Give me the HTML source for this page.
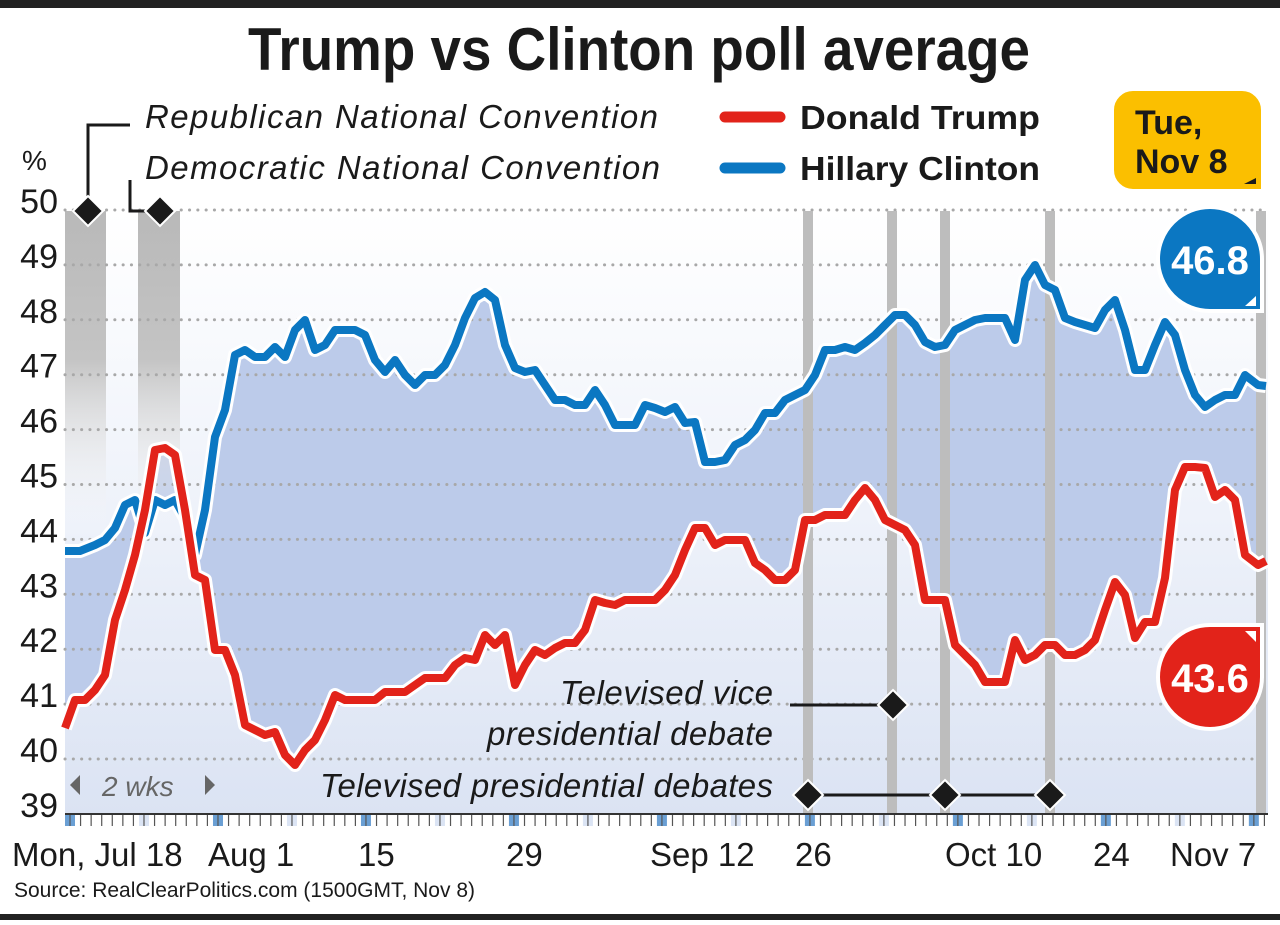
<!DOCTYPE html>
<html><head><meta charset="utf-8"><style>
body{margin:0;background:#fff;width:1280px;height:920px;overflow:hidden;font-family:"Liberation Sans",sans-serif}
</style></head><body>
<svg id="s" width="1280" height="920" xmlns="http://www.w3.org/2000/svg" font-family="Liberation Sans, sans-serif">
<defs>
<linearGradient id="gb" x1="0" y1="0" x2="0" y2="1"><stop offset="0" stop-color="#b9b9b9"/><stop offset="0.45" stop-color="#c4c4c4"/><stop offset="1" stop-color="#ffffff" stop-opacity="0"/></linearGradient>
<linearGradient id="lb" x1="0" y1="0" x2="0" y2="1"><stop offset="0" stop-color="#ffffff"/><stop offset="0.5" stop-color="#eef2fa"/><stop offset="1" stop-color="#dbe3f3"/></linearGradient>
</defs>
<rect x="0" y="0" width="1280" height="8" fill="#222"/>
<rect x="0" y="914" width="1280" height="6" fill="#222"/>
<text x="248" y="70" font-size="60" font-weight="bold" fill="#1a1a1a" textLength="782" lengthAdjust="spacingAndGlyphs">Trump vs Clinton poll average</text>
<rect x="65" y="211" width="1203" height="603" fill="url(#lb)"/>
<g id="bg"></g>
<rect x="65" y="211" width="41" height="330" fill="url(#gb)"/>
<rect x="138" y="211" width="42" height="330" fill="url(#gb)"/>
<g id="grid"></g>
<g fill="#bdbdbd"><rect x="803" y="211" width="10" height="603"/><rect x="887" y="211" width="10" height="603"/><rect x="940" y="211" width="10" height="603"/><rect x="1045" y="211" width="10" height="603"/><rect x="1256" y="211" width="10" height="603"/></g>
<g id="lines"></g>
<g font-size="34" fill="#1a1a1a" text-anchor="end" id="yl"></g>
<text x="22" y="170" font-size="28" fill="#1a1a1a">%</text>
<line x1="65" y1="814" x2="1268" y2="814" stroke="#333" stroke-width="2"/>
<g id="ticks"></g>
<g font-size="33" fill="#1a1a1a">
<text x="12" y="866">Mon, Jul 18</text><text x="208" y="866">Aug 1</text><text x="358" y="866">15</text><text x="506" y="866">29</text><text x="650" y="866">Sep 12</text><text x="795" y="866">26</text><text x="945" y="866">Oct 10</text><text x="1093" y="866">24</text><text x="1170" y="866">Nov 7</text>
</g>
<text x="14" y="897" font-size="21" fill="#1a1a1a">Source: RealClearPolitics.com (1500GMT, Nov 8)</text>
<g font-size="33" font-style="italic" fill="#1a1a1a" lengthAdjust="spacingAndGlyphs">
<text x="145" y="128" textLength="513">Republican National Convention</text>
<text x="145" y="179" textLength="515">Democratic National Convention</text>
<text x="560" y="704" textLength="213">Televised vice</text>
<text x="487" y="745" textLength="286">presidential debate</text>
<text x="320" y="797" textLength="453">Televised presidential debates</text>
<text x="102" y="796" fill="#666" font-size="28">2 wks</text>
</g>
<polygon points="70,785 80,775 80,795" fill="#666"/><polygon points="215,785 205,775 205,795" fill="#666"/>
<g stroke="#1a1a1a" stroke-width="3" fill="none">
<polyline points="130,125 88,125 88,211"/><polyline points="130,180 130,211 160,211"/>
<line x1="790" y1="705" x2="893" y2="705"/><line x1="800" y1="795" x2="1050" y2="795"/>
</g>
<g fill="#1a1a1a" stroke="#fff" stroke-width="2">
<polygon points="88,196 103,211 88,226 73,211"/><polygon points="160,196 175,211 160,226 145,211"/>
<polygon points="893,690 908,705 893,720 878,705"/>
<polygon points="808,780 823,795 808,810 793,795"/><polygon points="945,780 960,795 945,810 930,795"/><polygon points="1050,780 1065,795 1050,810 1035,795"/>
</g>
<line x1="725" y1="117" x2="780" y2="117" stroke="#e2231a" stroke-width="11" stroke-linecap="round"/>
<line x1="725" y1="168" x2="780" y2="168" stroke="#0b77c2" stroke-width="11" stroke-linecap="round"/>
<text x="800" y="129" font-size="33" font-weight="bold" fill="#1a1a1a" textLength="240" lengthAdjust="spacingAndGlyphs">Donald Trump</text>
<text x="800" y="180" font-size="33" font-weight="bold" fill="#1a1a1a" textLength="240" lengthAdjust="spacingAndGlyphs">Hillary Clinton</text>
<path d="M1133,90 H1242 A20,20 0 0 1 1262,110 V190 H1133 A20,20 0 0 1 1113,170 V110 A20,20 0 0 1 1133,90Z" fill="#fbbf00" stroke="#fff" stroke-width="2"/>
<text x="1135" y="134" font-size="34" font-weight="bold" fill="#1a1a1a">Tue,</text>
<text x="1135" y="173" font-size="34" font-weight="bold" fill="#1a1a1a">Nov 8</text>
<polygon points="1256,178 1256,184 1244,184" fill="#1a1a1a"/>
<path d="M1210,207 A52,52 0 0 1 1262,259 V311 H1210 A52,52 0 0 1 1210,207Z" fill="#0b77c2" stroke="#fff" stroke-width="4"/>
<text x="1210" y="274" font-size="40" font-weight="bold" fill="#fff" text-anchor="middle">46.8</text>
<polygon points="1256,296 1256,306 1245,306" fill="#fff"/>
<path d="M1210,625 H1262 V677 A52,52 0 1 1 1210,625Z" fill="#e2231a" stroke="#fff" stroke-width="4"/>
<text x="1210" y="692" font-size="40" font-weight="bold" fill="#fff" text-anchor="middle">43.6</text>
<polygon points="1245,631 1256,631 1256,642" fill="#fff"/>
</svg>
<script>
var NS="http://www.w3.org/2000/svg";
function el(t,a,p){var e=document.createElementNS(NS,t);for(var k in a)e.setAttribute(k,a[k]);document.getElementById(p).appendChild(e);return e;}
var B=[65,551,80,551,95,545,105,540,115,528,125,505,135,500,145,533,155,500,165,505,175,500,185,518,195,555,205,510,215,437,225,410,235,355,245,350,255,357,265,357,275,347,285,357,295,330,305,320,315,350,325,345,335,330,345,330,355,330,365,335,375,360,385,372,395,360,405,375,415,385,425,375,435,375,445,365,455,345,465,318,475,298,485,292,495,300,505,345,515,368,525,372,535,370,545,385,555,400,565,400,575,405,585,405,595,390,605,405,615,425,625,425,635,425,645,405,655,408,665,412,675,407,685,423,695,422,705,462,715,462,725,460,735,445,745,440,755,430,765,413,775,413,785,400,795,395,805,390,815,375,825,350,835,350,845,347,855,350,865,343,875,335,885,325,895,315,905,315,915,325,925,342,935,347,945,345,955,330,965,325,975,320,985,318,995,318,1005,318,1015,340,1025,280,1035,265,1045,285,1055,290,1065,318,1075,322,1085,325,1095,328,1105,310,1115,300,1125,330,1135,370,1145,370,1155,345,1165,322,1175,335,1185,370,1195,395,1205,407,1215,400,1225,395,1235,395,1245,375,1258,385,1266,386];
var R=[65,728,75,700,85,700,95,690,105,675,115,620,125,590,135,555,145,510,155,450,165,448,175,455,185,510,195,575,205,580,215,650,225,650,235,675,245,725,255,730,265,735,275,732,285,755,295,765,305,750,315,740,325,720,335,695,345,700,355,700,365,700,375,700,385,692,395,692,405,692,415,685,425,678,435,678,445,678,455,665,465,658,475,660,485,635,495,645,505,635,515,685,525,665,535,650,545,655,555,648,565,643,575,643,585,630,595,600,605,603,615,605,625,600,635,600,645,600,655,600,665,590,675,575,685,550,695,528,705,528,715,545,725,540,735,540,745,540,755,563,765,570,775,580,785,580,795,570,805,520,815,520,825,515,835,515,845,515,855,500,865,488,875,500,885,520,895,525,905,530,915,545,925,600,935,600,945,600,955,645,965,655,975,665,985,682,995,682,1005,682,1015,640,1025,660,1035,655,1045,645,1055,645,1065,655,1075,655,1085,650,1095,640,1105,610,1115,582,1125,595,1135,638,1145,622,1155,622,1165,578,1175,490,1185,467,1195,467,1205,468,1215,497,1225,490,1235,500,1245,555,1258,565,1266,561];
function pts(a){var s=[];for(var i=0;i<a.length;i+=2)s.push(a[i]+","+a[i+1]);return s;}
var bp=pts(B),rp=pts(R).reverse();
el("polygon",{points:bp.concat(rp).join(" "),fill:"#bccbea"},"bg");
for(var v=39;v<=50;v++){var y=210+(50-v)*54.9;
 if(v>39)el("line",{x1:65,y1:y,x2:1268,y2:y,stroke:"#a8a8a8","stroke-width":3,"stroke-dasharray":"0.1 8.2","stroke-linecap":"round"},"grid");
 var t=el("text",{x:58,y:y+3},"yl");t.textContent=v;}
[[B,"#0b77c2"],[R,"#e2231a"]].forEach(function(p){var s=pts(p[0]).join(" ");
 el("polyline",{points:s,fill:"none",stroke:"#fff","stroke-width":14,"stroke-linejoin":"round"},"lines");
 el("polyline",{points:s,fill:"none",stroke:p[1],"stroke-width":8,"stroke-linejoin":"round"},"lines");});
for(var d=0;d<=113;d++){var x=70+d*10.57;
 if(d%7==0){var c=(d%14==0)?"#6a9fd4":"#dbe4f4";el("rect",{x:x-5,y:815,width:10,height:11,fill:c},"ticks");}
 el("line",{x1:x,y1:815,x2:x,y2:826,stroke:"#555","stroke-width":1.2},"ticks");}
</script>
</body></html>
